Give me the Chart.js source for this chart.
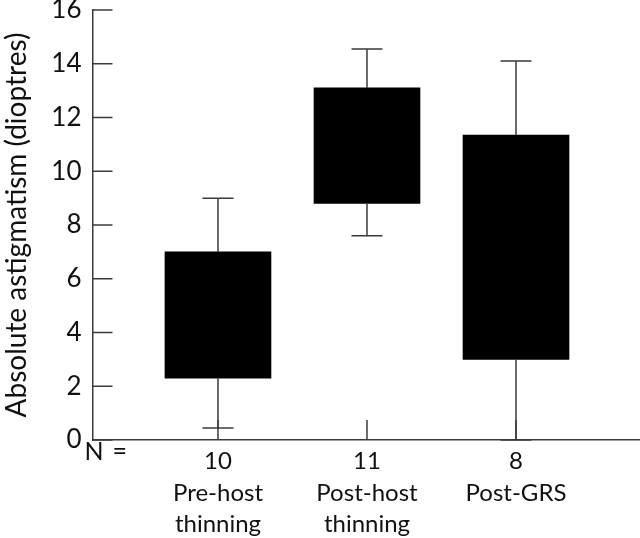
<!DOCTYPE html>
<html>
<head>
<meta charset="utf-8">
<script src="https://cdn.jsdelivr.net/npm/chart.js@4/dist/chart.umd.min.js"></script>
<style>
	html, body { margin: 0; padding: 0; background: #fff; }
	#wrap { width: 640px; height: 538px; position: relative; }
</style>
</head>
<body>
<div id="wrap"><canvas id="chart"></canvas></div>
<script>
( function () {
	'use strict';

	// Groups and their box-plot values (dioptres).
	var groupPos    = [ 0, 1, 2 ];
	var groupN      = [ '10', '11', '8' ];
	var groupNames  = [ [ 'Pre-host', 'thinning' ], [ 'Post-host', 'thinning' ], [ 'Post-GRS' ] ];
	var q1          = [ 2.3, 8.8, 3.0 ];
	var q3          = [ 7.0, 13.1, 11.35 ];
	var whiskerLo   = [ 0.45, 7.6, 0 ];
	var whiskerHi   = [ 9.0, 14.55, 14.1 ];
	var yTicks      = [ 0, 2, 4, 6, 8, 10, 12, 14, 16 ];

	var FONT  = "Lato, 'Open Sans', sans-serif";
	var INK   = '#111';
	var LINE  = '#3a3a3a';

	// Inward axis ticks, whiskers and the "N =" label.
	var boxPlotExtras = {
		id: 'boxPlotExtras',
		afterDatasetsDraw: function ( chart ) {
			var ctx = chart.ctx;
			var xs  = chart.scales.x;
			var ys  = chart.scales.y;
			var area = chart.chartArea;

			ctx.save();
			ctx.strokeStyle = LINE;
			ctx.lineWidth   = 1.5;

			// y ticks pointing into the plot
			ys.ticks.forEach( function ( t ) {
				var py = ys.getPixelForValue( t.value );
				ctx.beginPath();
				ctx.moveTo( area.left, py );
				ctx.lineTo( area.left + 20, py );
				ctx.stroke();
			} );

			// x ticks pointing up
			xs.ticks.forEach( function ( t ) {
				var px = xs.getPixelForValue( t.value );
				ctx.beginPath();
				ctx.moveTo( px, area.bottom );
				ctx.lineTo( px, area.bottom - 20 );
				ctx.stroke();
			} );

			// whiskers + caps
			groupPos.forEach( function ( g, i ) {
				var px = xs.getPixelForValue( g );
				var segs = [ [ q3[ i ], whiskerHi[ i ] ], [ q1[ i ], whiskerLo[ i ] ] ];
				segs.forEach( function ( s ) {
					var a = ys.getPixelForValue( s[ 0 ] );
					var b = ys.getPixelForValue( s[ 1 ] );
					ctx.beginPath();
					ctx.moveTo( px, a );
					ctx.lineTo( px, b );
					ctx.moveTo( px - 15.5, b );
					ctx.lineTo( px + 15.5, b );
					ctx.stroke();
				} );
			} );

			ctx.fillStyle    = INK;
			ctx.font         = '25px ' + FONT;
			ctx.textAlign    = 'left';
			ctx.textBaseline = 'alphabetic';
			ctx.fillText( 'N', area.left - 8, area.bottom + 20 );
			ctx.fillText( '=', area.left + 20, area.bottom + 20 );
			ctx.restore();
		}
	};

	var boxData = groupPos.map( function ( g, i ) {
		return { x: g, y: [ q1[ i ], q3[ i ] ] };
	} );

	new Chart( document.getElementById( 'chart' ), {
		type: 'bar',
		data: {
			datasets: [ {
				data:            boxData,
				backgroundColor: '#000',
				borderWidth:     0,
				barThickness:    106,
			} ],
		},
		options: {
			responsive:          true,
			maintainAspectRatio: false,
			animation:           false,
			layout: {
				autoPadding: false,
				padding:     { top: 10, right: 0, bottom: 0, left: 0 },
			},
			plugins: {
				legend:  { display: false },
				tooltip: { enabled: false },
			},
			scales: {
				x: {
					type:   'linear',
					offset: false,
					min:    -0.842,
					max:    2.832,
					afterBuildTicks: function ( scale ) {
						scale.ticks = groupPos.map( function ( v ) { return { value: v }; } );
					},
					afterFit: function ( scale ) {
						scale.height = 98;
						scale.paddingLeft = 0;
						scale.paddingRight = 0;
					},
					grid:   { display: true, drawOnChartArea: false, drawTicks: false, offset: false },
					border: { display: true, color: LINE, width: 1.5 },
					ticks: {
						color:      INK,
						padding:    6,
						autoSkip:   false,
						maxRotation: 0,
						font:       { family: FONT, size: 24, lineHeight: 1.31 },
						callback: function ( v ) {
							var i = groupPos.indexOf( v );
							return i < 0 ? '' : [ groupN[ i ] ].concat( groupNames[ i ] );
						},
					},
				},
				y: {
					min: 0,
					max: 16,
					afterBuildTicks: function ( scale ) {
						scale.ticks = yTicks.map( function ( v ) { return { value: v }; } );
					},
					afterFit: function ( scale ) {
						scale.width = 92.5;
						scale.paddingTop = 0;
						scale.paddingBottom = 0;
					},
					grid:   { display: true, drawOnChartArea: false, drawTicks: false },
					border: { display: true, color: LINE, width: 1.5 },
					ticks: {
						color:   INK,
						padding: 11,
						font:    { family: FONT, size: 26 },
					},
					title: {
						display: true,
						text:    'Absolute astigmatism (dioptres)',
						color:   INK,
						padding: 0,
						font:    { family: FONT, size: 28 },
					},
				},
			},
		},
		plugins: [ boxPlotExtras ],
	} );
} )();
</script>
</body>
</html>
